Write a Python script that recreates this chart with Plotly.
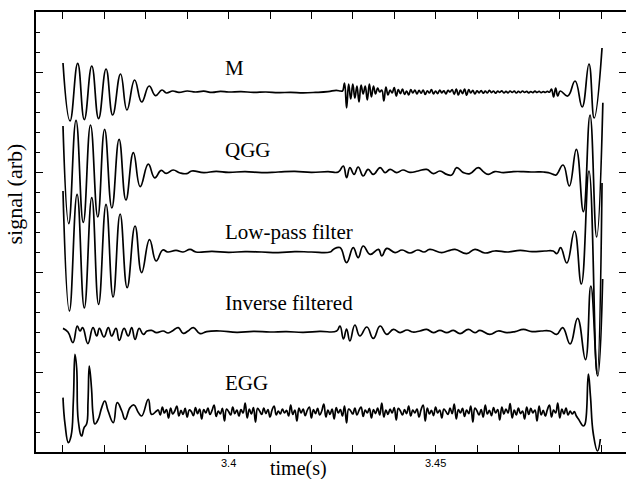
import plotly.graph_objects as go

# ---------------------------------------------------------------
# Channel samples: time in ms, signal in arbitrary units.
# Smooth sections are given at turning points; noisy sections on a
# regular 0.5 ms grid starting at the *_NOISE_T0 time.
# ---------------------------------------------------------------

# --- M (microphone) ---
M_HEAD_T = [3360.0, 3361.7, 3363.55, 3365.15, 3366.95, 3368.6, 3370.4, 3372.0, 3373.9, 3375.45,
            3377.3, 3379.0, 3380.8, 3382.35, 3383.9, 3385.0, 3386.5, 3388.0, 3390.0, 3392.0,
            3394.0, 3396.0, 3398.0, 3400.0, 3403.0, 3406.0, 3409.0, 3412.0, 3415.0, 3418.0,
            3421.0, 3424.0, 3426.0, 3427.0]
M_HEAD_V = [1.45, -1.45, 1.43, -1.38, 1.30, -1.33, 1.15, -1.15, 0.90, -0.90,
            0.60, -0.50, 0.30, -0.18, 0.10, -0.05, 0.05, -0.02, 0.05, 0.0,
            0.04, -0.02, 0.03, 0.0, 0.02, -0.02, 0.0, -0.03, -0.02, -0.04,
            -0.02, 0.02, 0.08, 0.05]
M_NOISE_T0 = 3427.5
M_NOISE = [0.05, 0.45, -0.80, 0.40, -0.35, 0.40, -0.30, 0.30, -0.50, 0.35,
           -0.10, 0.30, -0.40, 0.40, -0.25, 0.30, -0.10, 0.20, 0.00, 0.10,
           -0.45, 0.25, -0.15, 0.10, -0.05, 0.22, -0.20, 0.12, -0.08, 0.15,
           -0.12, 0.05, -0.15, 0.12, -0.05, 0.10, -0.10, 0.08, -0.06, 0.10,
           -0.12, 0.06, -0.05, 0.12, -0.10, 0.05, -0.08, 0.10, -0.04, 0.06,
           -0.10, 0.08, 0.00, 0.12, -0.12, 0.15, -0.15, 0.10, -0.08, 0.14,
           -0.16, 0.12, -0.05, 0.08, -0.10, 0.06, -0.04, 0.07, -0.06, 0.04,
           -0.05, 0.08, -0.03, 0.05, -0.06, 0.04, -0.02, 0.06, -0.05, 0.03,
           -0.04, 0.05, -0.02, 0.04, -0.05, 0.03, -0.03, 0.05, -0.02, 0.03,
           -0.04, 0.02, -0.03, 0.04, -0.02, 0.03, -0.03, 0.02, -0.02, 0.03,
           -0.01, 0.15, -0.25, 0.20, -0.20]
M_TAIL_T = [3480.1, 3481.9, 3483.7, 3485.4, 3487.05, 3488.3, 3490.2]
M_TAIL_V = [0.05, -0.20, 0.55, -0.75, 1.40, -1.30, 2.20]

# --- QGG ---
Q_T = [3360.0, 3361.4, 3363.15, 3364.9, 3366.65, 3368.4, 3370.05, 3371.8, 3373.55, 3375.2,
       3377.0, 3378.65, 3380.6, 3382.15, 3383.7, 3384.9, 3386.6, 3388.3, 3389.9, 3391.1,
       3394.0, 3397.0, 3400.0, 3404.0, 3408.0, 3412.0, 3416.0, 3420.0, 3424.0, 3426.5,
       3427.7, 3428.5, 3429.3, 3430.3, 3431.3, 3432.5, 3433.7, 3434.95, 3436.6, 3437.8,
       3439.0, 3440.6, 3442.1, 3443.8, 3445.8, 3447.85, 3449.45, 3451.05, 3452.7, 3453.9,
       3455.1, 3456.7, 3458.3, 3460.3, 3461.5, 3462.7, 3464.3, 3466.35, 3468.8, 3471.2,
       3473.6, 3476.0, 3477.2, 3478.4, 3479.1, 3480.8, 3482.3, 3484.0, 3485.7, 3487.3,
       3488.9, 3490.4]
Q_V = [2.3, -2.58, 2.58, -2.52, 2.35, -2.25, 2.13, -1.8, 1.63, -1.4,
       0.97, -0.73, 0.39, -0.29, 0.08, -0.07, 0.1, -0.05, -0.08, 0.05,
       -0.03, 0.03, -0.02, 0.02, -0.03, 0.0, 0.03, -0.02, 0.02, 0.0,
       0.3, -0.28, 0.22, -0.12, 0.25, -0.2, 0.13, -0.12, 0.22, -0.03,
       0.13, -0.03, 0.1, -0.02, 0.05, 0.13, -0.08, 0.05, -0.12, -0.15,
       0.22, -0.03, -0.08, 0.22, 0.02, -0.12, 0.02, -0.03, 0.02, 0.02,
       0.0, 0.0, -0.03, -0.12, -0.15, 0.35, -0.7, 1.13, -1.98, 2.85,
       -3.25, 3.46]

# --- Low-pass filter ---
L_T = [3360.0, 3361.55, 3363.4, 3365.15, 3366.95, 3368.6, 3370.4, 3372.1, 3373.8, 3375.5,
       3377.4, 3379.0, 3380.9, 3382.5, 3384.1, 3385.3, 3387.3, 3389.0, 3390.7, 3392.1,
       3396.0, 3400.0, 3404.0, 3408.0, 3412.0, 3416.0, 3420.0, 3424.5, 3425.3, 3426.9,
       3428.5, 3430.1, 3431.3, 3432.5, 3434.2, 3436.2, 3437.0, 3438.2, 3440.2, 3441.9,
       3443.8, 3445.7, 3447.2, 3448.6, 3451.5, 3453.2, 3454.7, 3457.5, 3459.5, 3461.9,
       3464.3, 3467.5, 3470.4, 3473.3, 3476.4, 3478.4, 3479.3, 3480.2, 3481.7, 3483.55,
       3485.2, 3487.05, 3489.0, 3490.2]
L_V = [3.05, -2.95, 2.88, -2.8, 2.72, -2.62, 2.38, -2.25, 1.9, -1.78,
       1.3, -1.03, 0.62, -0.45, 0.1, 0.0, 0.08, 0.0, 0.13, 0.0,
       0.03, -0.02, 0.02, 0.0, -0.03, 0.02, 0.0, 0.0, 0.13, 0.22,
       -0.53, 0.22, -0.28, 0.3, -0.12, 0.13, -0.2, 0.18, -0.03, 0.1,
       -0.05, 0.1, 0.0, 0.13, -0.03, 0.07, 0.13, -0.08, 0.13, -0.05,
       0.05, 0.0, 0.08, 0.02, 0.05, 0.05, -0.08, 0.22, -0.55, 1.05,
       -1.6, 4.05, -6.1, 3.45]

# --- Inverse filtered ---
I_T = [3360.0, 3361.2, 3362.4, 3363.45, 3364.1, 3364.75, 3366.0, 3367.25, 3368.15, 3368.8,
       3369.9, 3370.95, 3371.75, 3372.8, 3373.6, 3374.75, 3375.75, 3376.6, 3377.4, 3378.4,
       3379.4, 3380.3, 3381.4, 3382.6, 3384.2, 3385.4, 3386.6, 3387.85, 3389.05, 3390.2,
       3391.5, 3393.1, 3394.7, 3398.0, 3402.0, 3406.0, 3410.0, 3414.0, 3418.0, 3422.0,
       3426.1, 3426.9, 3427.75, 3428.5, 3429.3, 3430.5, 3431.7, 3433.4, 3434.95, 3436.6,
       3438.2, 3439.8, 3441.4, 3443.1, 3444.5, 3446.2, 3447.85, 3449.45, 3451.05, 3452.7,
       3454.3, 3455.9, 3457.9, 3459.5, 3460.7, 3463.1, 3465.1, 3467.2, 3469.2, 3471.2,
       3473.3, 3475.5, 3477.6, 3479.25, 3480.7, 3482.5, 3484.3, 3486.2, 3487.5, 3489.15,
       3490.35]
I_V = [0.18, 0.0, -0.53, 0.3, 0.05, 0.22, -0.58, 0.22, -0.2, 0.18,
       -0.25, 0.22, -0.2, 0.18, -0.42, 0.18, -0.2, 0.22, -0.37, 0.18,
       -0.12, 0.05, 0.08, -0.03, 0.05, -0.05, 0.08, 0.22, -0.07, 0.05,
       0.22, -0.08, 0.02, 0.05, -0.02, 0.03, 0.0, 0.02, -0.02, 0.03,
       0.05, 0.3, -0.35, 0.15, -0.45, 0.35, -0.2, 0.25, -0.32, 0.3,
       -0.12, 0.13, -0.03, 0.1, 0.0, 0.05, 0.13, -0.03, 0.08, -0.03,
       0.08, -0.08, 0.13, -0.03, 0.08, -0.12, 0.05, -0.03, 0.02, 0.13,
       0.02, 0.05, 0.05, -0.12, 0.22, -0.6, 0.68, -1.38, 2.3, -2.2,
       2.65]

# --- EGG ---
E_HEAD_T = [3360.0, 3360.5, 3361.3, 3361.95, 3362.5, 3362.9, 3363.3, 3363.7, 3364.5, 3365.1,
            3365.7, 3366.05, 3366.35, 3366.9, 3367.25, 3367.7, 3368.5, 3369.35, 3370.1, 3370.9,
            3372.15, 3373.1, 3374.2, 3375.0, 3376.2, 3377.15, 3378.2, 3379.0, 3380.6, 3381.4,
            3382.6]
E_HEAD_V = [0.72, -0.62, -1.53, -1.2, 0.55, 2.88, 2.2, -0.45, -1.2, -0.78,
            -0.6, 0.55, 2.3, 1.15, -0.1, -0.6, -0.37, 0.22, 0.55, 0.05,
            -0.53, 0.47, 0.05, -0.37, 0.22, 0.35, -0.03, -0.2, 0.63, -0.12,
            0.05]
E_NOISE_T0 = 3383.0
E_NOISE = [0.10, -0.15, 0.25, -0.05, 0.12, -0.30, 0.20, -0.10, 0.05, 0.30, -0.20, 0.08, -0.12, 0.18, -0.25, 0.10, 0.02, -0.18, 0.22, -0.08, 0.15,
           -0.35, 0.12, -0.05, 0.20, -0.12, 0.08, 0.35, -0.22, 0.05, -0.10, 0.18, -0.45, 0.15, 0.02, -0.15, 0.25, -0.08, 0.10, -0.20, 0.12, -0.05,
           0.45, -0.30, 0.15, -0.10, 0.22, -0.50, 0.18, 0.05, -0.12, 0.20, -0.08, 0.12, -0.25, 0.10, 0.30, -0.15, 0.05, -0.10, 0.15, -0.05, 0.08,
           -0.20, 0.35, -0.12, 0.10, -0.45, 0.20, -0.05, 0.15, -0.18, 0.08, 0.25, -0.30, 0.12, -0.08, 0.18, -0.15, 0.05, 0.40, -0.25, 0.10, -0.12,
           0.15, -0.35, 0.22, -0.05, 0.12, -0.20, 0.30, -0.55, 0.15, 0.05, -0.10, 0.20, -0.15, 0.08, 0.25, -0.22, 0.10, -0.05, 0.18, -0.30, 0.12,
           -0.08, 0.20, -0.15, 0.45, -0.25, 0.10, -0.12, 0.15, -0.05, 0.22, -0.40, 0.18, 0.05, -0.15, 0.12, -0.08, 0.30, -0.20, 0.10, -0.05, 0.15,
           -0.25, 0.12, 0.35, -0.45, 0.20, -0.10, 0.08, -0.18, 0.25, -0.05, 0.10, -0.30, 0.15, 0.02, -0.12, 0.20, -0.08, 0.40, -0.35, 0.12, -0.05,
           0.18, -0.22, 0.10, -0.08, 0.30, -0.50, 0.20, 0.05, -0.15, 0.12, -0.25, 0.35, -0.10, 0.08, -0.18, 0.22, -0.05, 0.12, -0.40, 0.25, -0.10,
           0.15, -0.05, 0.42, -0.30, 0.10, -0.15, 0.20, -0.08, 0.05, -0.35, 0.25, -0.12, 0.18, -0.05, 0.10, -0.45, 0.30, -0.15, 0.08, -0.20, 0.12,
           0.35, -0.25, 0.10, -0.05, 0.45, -0.30, 0.15, -0.10, 0.20, -0.15, 0.05, -0.10, 0.02, -0.20, -0.35]
E_TAIL_T = [3485.7, 3486.1, 3486.9, 3487.4, 3488.1, 3489.1, 3489.8]
E_TAIL_V = [-0.7, -0.6, 1.9, 0.8, -1.1, -1.95, -1.35]

CHANNEL_NAMES = ["M", "QGG", "Low-pass filter", "Inverse filtered", "EGG"]
STEP_MS = 0.5


def grid(t0, n):
    return [t0 + i * STEP_MS for i in range(n)]


def join(*parts):
    t, v = [], []
    for pt, pv in parts:
        assert len(pt) == len(pv)
        t += list(pt)
        v += list(pv)
    return t, v


channels = [
    join((M_HEAD_T, M_HEAD_V), (grid(M_NOISE_T0, len(M_NOISE)), M_NOISE), (M_TAIL_T, M_TAIL_V)),
    join((Q_T, Q_V)),
    join((L_T, L_V)),
    join((I_T, I_V)),
    join((E_HEAD_T, E_HEAD_V), (grid(E_NOISE_T0, len(E_NOISE)), E_NOISE), (E_TAIL_T, E_TAIL_V)),
]

# vertical stacking of the channels and label heights (axis units)
offsets = [19, 15, 11, 7, 3]
label_y = [20.2, 16.1, 11.98, 8.47, 4.47]
label_x = 3.39865

fig = go.Figure()
for (t, v), off in zip(channels, offsets):
    fig.add_trace(go.Scatter(
        x=[ti / 1000.0 for ti in t],
        y=[vi + off for vi in v],
        mode="lines",
        line=dict(color="black", width=1.7, shape="spline", smoothing=1.3),
        hoverinfo="skip",
        showlegend=False,
    ))

# empty trace so the right-hand tick axis is drawn
fig.add_trace(go.Scatter(x=[], y=[], yaxis="y2", showlegend=False))

serif = "Liberation Serif, Times New Roman, serif"
annotations = []
for name, y in zip(CHANNEL_NAMES, label_y):
    annotations.append(dict(x=label_x, y=y, xref="x", yref="y", text=name, showarrow=False,
                            xanchor="left", yanchor="middle",
                            font=dict(family=serif, size=21, color="black")))
annotations.append(dict(x=-0.0356, y=13.925, xref="paper", yref="y", text="signal (arb)",
                        textangle=-90, showarrow=False, xanchor="center", yanchor="middle",
                        font=dict(family=serif, size=22, color="black")))
annotations.append(dict(x=3.4170, y=-0.0375, xref="x", yref="paper", text="time(s)",
                        showarrow=False, xanchor="center", yanchor="middle",
                        font=dict(family=serif, size=20, color="black")))

yticks = dict(range=[1, 23], ticks="inside", ticklen=7, tickwidth=1.2, tickcolor="black",
              tick0=0, dtick=5, showticklabels=False, showgrid=False, zeroline=False,
              minor=dict(dtick=1, ticks="inside", ticklen=4, tickwidth=1, tickcolor="black"))

fig.update_layout(
    width=626, height=479,
    margin=dict(l=36, r=0, t=12, b=27),
    paper_bgcolor="white", plot_bgcolor="white",
    showlegend=False, hovermode=False,
    annotations=annotations,
    xaxis=dict(range=[3.35348, 3.49599], showline=True, linecolor="black", linewidth=1.5,
               mirror="allticks", ticks="inside", ticklen=7, tickwidth=1.2, tickcolor="black",
               tick0=3.4, dtick=0.05, showgrid=False, zeroline=False,
               minor=dict(dtick=0.01, ticks="inside", ticklen=4, tickwidth=1, tickcolor="black"),
               tickfont=dict(family="Liberation Sans, Arial, sans-serif", size=11, color="black")),
    yaxis=dict(showline=True, linecolor="black", linewidth=1.5, **yticks),
    yaxis2=dict(overlaying="y", side="right", anchor="x", showline=False, **yticks),
)

fig.write_html("out.html")
